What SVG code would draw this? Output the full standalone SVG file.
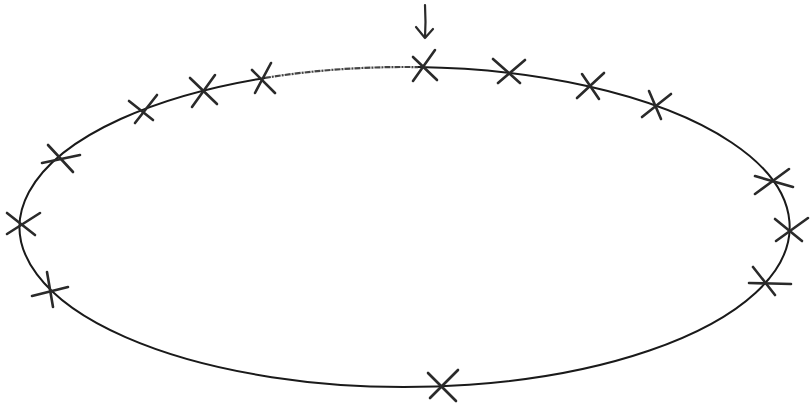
<svg xmlns="http://www.w3.org/2000/svg" width="810" height="407" viewBox="0 0 810 407">
<style>
.ring{fill:none;stroke:#1a1a1a;stroke-width:2;stroke-linecap:round}
.faint{fill:none;stroke:#444;stroke-width:2.2;stroke-dasharray:6 1 2 1}
.x line{stroke:#2a2a2a;stroke-width:2.6;stroke-linecap:round}
.arrow{fill:none;stroke:#2a2a2a;stroke-width:2.2;stroke-linecap:round;stroke-linejoin:round}
</style>
<rect width="810" height="407" fill="#fff"/>
<g id="connectors">
<path class="ring" d="M418 67.1 A385 160 0 1 1 265 77.9"/>
<path class="faint" d="M265 77.9 A385 160 0 0 1 418 67.1"/>
<path class="arrow" d="M425 5 Q426 22 425 38 M416 27 L425 38 L433 29"/>
</g>
<g id="x1" class="x"><line x1="413" y1="81" x2="435" y2="50"/><line x1="413" y1="57" x2="437" y2="80"/></g>
<g id="x2" class="x"><line x1="493" y1="59" x2="520" y2="83"/><line x1="498" y1="83" x2="525" y2="60"/></g>
<g id="x3" class="x"><line x1="582" y1="74" x2="599" y2="99"/><line x1="577" y1="98" x2="604" y2="73"/></g>
<g id="x4" class="x"><line x1="649" y1="91" x2="661" y2="119"/><line x1="642" y1="117" x2="671" y2="94"/></g>
<g id="x5" class="x"><line x1="755" y1="176" x2="793" y2="187"/><line x1="755" y1="194" x2="789" y2="169"/></g>
<g id="x6" class="x"><line x1="775" y1="219" x2="802" y2="241"/><line x1="776" y1="241" x2="808" y2="218"/></g>
<g id="x7" class="x"><line x1="753" y1="267" x2="775" y2="295"/><line x1="749" y1="283" x2="791" y2="284"/></g>
<g id="x8" class="x"><line x1="428" y1="373" x2="456" y2="401"/><line x1="430" y1="398" x2="458" y2="370"/></g>
<g id="x9" class="x"><line x1="47" y1="272" x2="53" y2="307"/><line x1="32" y1="296" x2="68" y2="287"/></g>
<g id="x10" class="x"><line x1="7" y1="213" x2="35" y2="235"/><line x1="7" y1="234" x2="40" y2="213"/></g>
<g id="x11" class="x"><line x1="48" y1="145" x2="73" y2="172"/><line x1="42" y1="163" x2="80" y2="155"/></g>
<g id="x12" class="x"><line x1="129" y1="101" x2="153" y2="120"/><line x1="135" y1="123" x2="157" y2="95"/></g>
<g id="x13" class="x"><line x1="190" y1="78" x2="217" y2="104"/><line x1="192" y1="107" x2="215" y2="75"/></g>
<g id="x14" class="x"><line x1="252" y1="70" x2="275" y2="93"/><line x1="255" y1="93" x2="271" y2="63"/></g>
</svg>
